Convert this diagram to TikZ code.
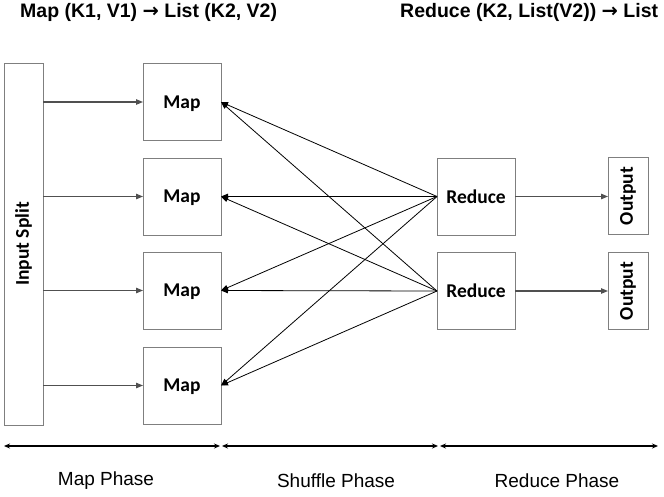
\documentclass[tikz,border=0pt]{standalone}
\usepackage{fontspec}
\setmainfont{Liberation Sans}
\newfontfamily\boxfont{Carlito}
\newfontfamily\arrowfont{DejaVu Sans}
\newcommand{\rarr}{{\arrowfont\bfseries →}}
\usetikzlibrary{arrows.meta}
\definecolor{boxgray}{HTML}{7F7F7F}
\definecolor{feedgray}{HTML}{505050}
\begin{document}
\begin{tikzpicture}[x=1pt,y=-1pt,
  box/.style={draw=boxgray, line width=0.9pt, inner sep=0pt, outer sep=0pt,
    font=\boxfont\bfseries\fontsize{19.5}{21}\selectfont},
  mapbox/.style={box, minimum width=78pt, minimum height=77pt, text depth=0pt},
  feed/.style={draw=feedgray, line width=1.1pt, -{Triangle[length=7pt,width=5.5pt]}},
  shuf/.style={draw=black, line width=0.8pt, -{Triangle[length=7pt,width=5.5pt]}},
  phase/.style={draw=black, line width=1.6pt, {Stealth[length=6pt,width=5pt]}-{Stealth[length=6pt,width=5pt]}},
  phaselabel/.style={font=\fontsize{19}{21}\selectfont, inner sep=0pt},
  formula/.style={font=\bfseries\fontsize{19.5}{21}\selectfont, inner sep=0pt, anchor=base west}
]
\clip (0,0) rectangle (664,496);
% formulas
\node[formula] (f1) at (20,17) {Map (K1, V1) \rarr{} List (K2, V2)};
\node[formula] (f2) at (400,17) {Reduce (K2, List(V2)) \rarr{} List};
% input split
\node[box, minimum width=39pt, minimum height=362pt] (split) at (23.5,244) {\rotatebox{90}{Input Split}};
% map boxes
\node[mapbox] (m1) at (182,102) {Map};
\node[mapbox] (m2) at (182,196.5) {Map};
\node[mapbox] (m3) at (182,290.5) {Map};
\node[mapbox] (m4) at (182,385.5) {Map};
% reduce boxes
\node[mapbox] (r1) at (476,196.5) {Reduce};
\node[mapbox] (r2) at (476,291) {Reduce};
% output boxes
\node[box, minimum width=40pt, minimum height=77pt] (o1) at (628,196) {\rotatebox{90}{Output}};
\node[box, minimum width=40pt, minimum height=77pt] (o2) at (628,291) {\rotatebox{90}{Output}};
% input feeds
\foreach \m in {m1,m2,m3,m4}
  \draw[feed] (split.east |- \m.west) -- (\m.west);
% shuffle
\foreach \r in {r1,r2}
  \foreach \m in {m1,m2,m3,m4}
    \draw[shuf] (\r.west) -- (\m.east);
% reduce to output
\draw[feed] (r1.east) -- (r1.east -| o1.west);
\draw[feed] (r2.east) -- (r2.east -| o2.west);
% phase arrows
\coordinate (p0) at (4,446);
\coordinate (p1) at (220,446);
\coordinate (p2) at (222,446);
\coordinate (p3) at (438,446);
\coordinate (p4) at (440,446);
\coordinate (p5) at (658,446);
\draw[phase] (p0) -- (p1);
\draw[phase] (p2) -- (p3);
\draw[phase] (p4) -- (p5);
\node[phaselabel] (l1) at (106,481) {Map Phase};
\node[phaselabel] (l2) at (336,481) {Shuffle Phase};
\node[phaselabel] (l3) at (557,481) {Reduce Phase};
\end{tikzpicture}
\end{document}
